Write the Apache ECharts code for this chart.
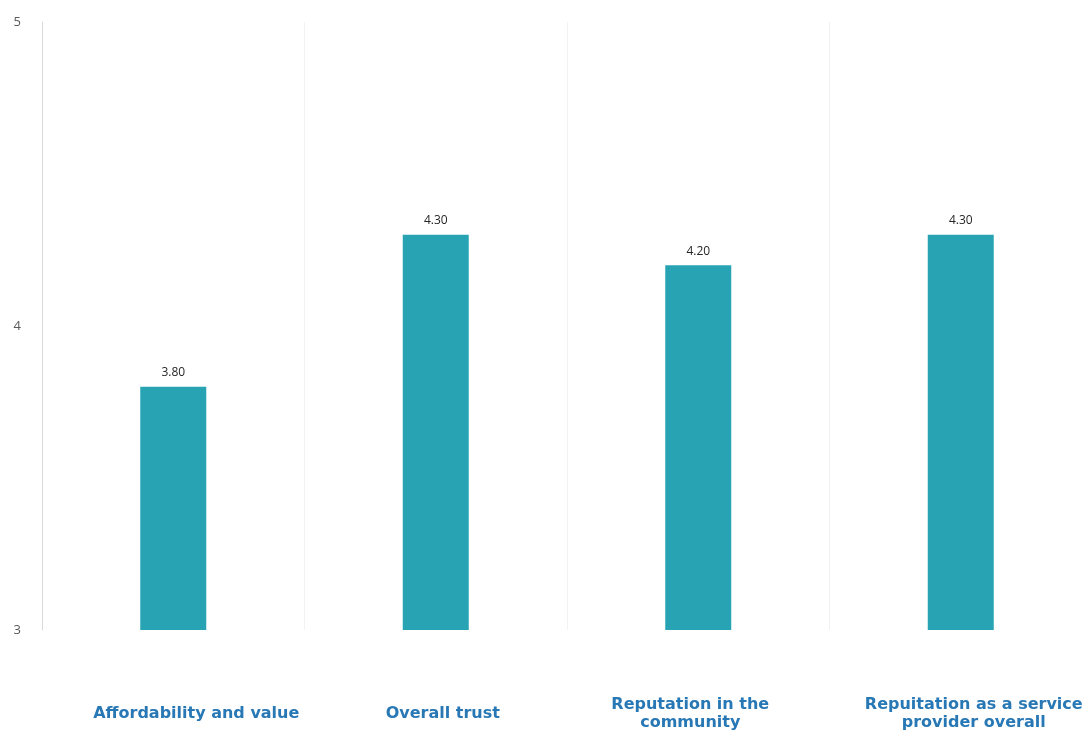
<!DOCTYPE html>
<html>
<head>
<meta charset="utf-8">
<script src="https://cdn.jsdelivr.net/npm/echarts@6/dist/echarts.min.js"></script>
<style>
html,body{margin:0;padding:0;background:#fff;}
#c{width:1092px;height:734px;}
</style>
</head>
<body>
<div id="c"></div>
<script>
const categories = ["Affordability and value", "Overall trust", "Reputation in the\ncommunity", "Repuitation as a service\nprovider overall"];
const values = [3.80, 4.30, 4.20, 4.30];
const yTicks = [3, 4, 5];

// horizontal nudges of the category labels (layout only)
const labelShift = [23, 7, -8, 13];
const labelFont = {
  color: '#2878b5',
  fontFamily: 'DejaVu Sans',
  fontWeight: 'bold',
  fontSize: 16,
  lineHeight: 18
};
const rich = {};
labelShift.forEach((s, i) => {
  rich['s' + i] = Object.assign({}, labelFont, {
    padding: s >= 0 ? [0, 0, 0, 2 * s] : [0, -2 * s, 0, 0]
  });
});

const chart = echarts.init(document.getElementById('c'));
chart.setOption({
  animation: false,
  backgroundColor: '#ffffff',
  grid: {left: 42, top: 22, width: 1052, bottom: 104, containLabel: false},
  xAxis: {
    type: 'category',
    data: categories,
    axisLine: {show: false},
    axisTick: {show: false},
    splitLine: {show: true, lineStyle: {color: '#f2f2f2', width: 1}},
    axisLabel: Object.assign({
      interval: 0,
      margin: 84,
      verticalAlign: 'middle',
      align: 'center',
      formatter: (v, i) => v.split('\n').map(l => '{s' + i + '|' + l + '}').join('\n'),
      rich: rich
    }, labelFont)
  },
  yAxis: {
    type: 'value',
    min: yTicks[0],
    max: yTicks[yTicks.length - 1],
    interval: 1,
    axisLine: {show: true, lineStyle: {color: '#d9d9d9'}},
    axisTick: {show: false},
    splitLine: {show: false},
    axisLabel: {color: '#595959', fontSize: 13, margin: 21, fontFamily: 'Open Sans'}
  },
  series: [{
    type: 'bar',
    data: values,
    barWidth: 66,
    itemStyle: {color: '#27a3b4'},
    label: {
      show: true,
      position: 'top',
      distance: 8,
      formatter: p => p.value.toFixed(2),
      color: '#262626',
      fontSize: 12,
      fontFamily: 'Open Sans'
    }
  }]
});
</script>
</body>
</html>
